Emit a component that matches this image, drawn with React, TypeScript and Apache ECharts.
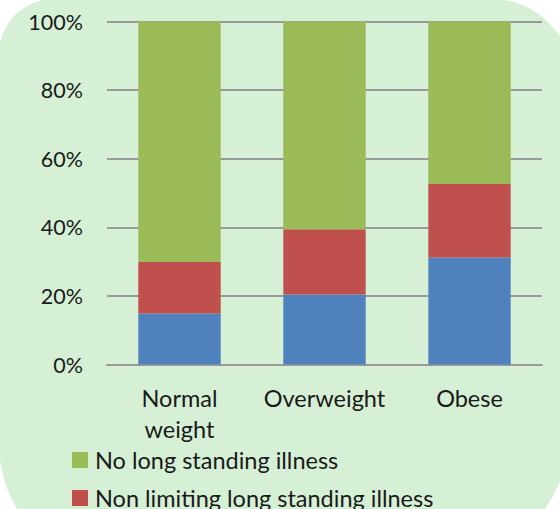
import React, { useEffect, useRef } from "react";
import * as echarts from "echarts";

const categories = ["Normal\nweight", "Overweight", "Obese"];
const limitingIllness = [14.9, 20.4, 31.2];
const nonLimitingIllness = [15.0, 19.0, 21.4];
const noIllness = [70.1, 60.6, 47.4];
const yTicks = [0, 20, 40, 60, 80, 100];
const legendItems = ["No long standing illness", "Non limiting long standing illness"];

const FONT = "Lato, 'Open Sans', sans-serif";

export default function App() {
  const ref = useRef<HTMLDivElement>(null);
  useEffect(() => {
    if (!ref.current) return;
    const chart = echarts.init(ref.current, undefined, { renderer: "svg" });
    chart.setOption({
      animation: false,
      graphic: [
        {
          type: "rect",
          z: -100,
          silent: true,
          shape: { x: -1, y: -1, width: 573, height: 574, r: [55, 80, 150, 130] },
          style: { fill: "#d5f0d5" },
        },
      ],
      grid: { left: 107, right: 18, top: 21.5, bottom: 144.5, containLabel: false },
      legend: {
        orient: "vertical",
        left: 72,
        top: 447,
        height: 200,
        padding: 0,
        itemWidth: 16,
        itemHeight: 16,
        itemGap: 12,
        icon: "rect",
        data: legendItems,
        textStyle: {
          fontFamily: FONT,
          fontSize: 23.5,
          color: "#1a1a1a",
          lineHeight: 26,
          padding: [0, 0, 0, 2],
        },
      },
      xAxis: {
        type: "category",
        data: categories,
        axisTick: { show: false },
        axisLine: { show: true, lineStyle: { color: "#9a9a9a", width: 2 } },
        axisLabel: {
          fontFamily: FONT,
          fontSize: 23.5,
          lineHeight: 31,
          color: "#1a1a1a",
          margin: 18,
          interval: 0,
        },
      },
      yAxis: {
        type: "value",
        min: 0,
        max: 100,
        interval: 20,
        axisLine: { show: false },
        axisTick: { show: false },
        splitLine: { show: true, lineStyle: { color: "#9a9a9a", width: 2 } },
        axisLabel: {
          fontFamily: FONT,
          fontSize: 21.5,
          color: "#1a1a1a",
          margin: 24,
          formatter: (v: number) => (yTicks.includes(v) ? v + "%" : ""),
        },
      },
      series: [
        {
          name: "Limiting long standing illness",
          type: "bar",
          stack: "total",
          barWidth: "56.8%",
          data: limitingIllness,
          itemStyle: { color: "#4f81bd" },
        },
        {
          name: "Non limiting long standing illness",
          type: "bar",
          stack: "total",
          data: nonLimitingIllness,
          itemStyle: { color: "#c0504d" },
        },
        {
          name: "No long standing illness",
          type: "bar",
          stack: "total",
          data: noIllness,
          itemStyle: { color: "#9bbb59" },
        },
      ],
    });
    return () => chart.dispose();
  }, []);
  return (
    <div
      ref={ref}
      style={{ position: "fixed", left: 0, top: 0, width: 560, height: 509, background: "#ffffff" }}
    />
  );
}
